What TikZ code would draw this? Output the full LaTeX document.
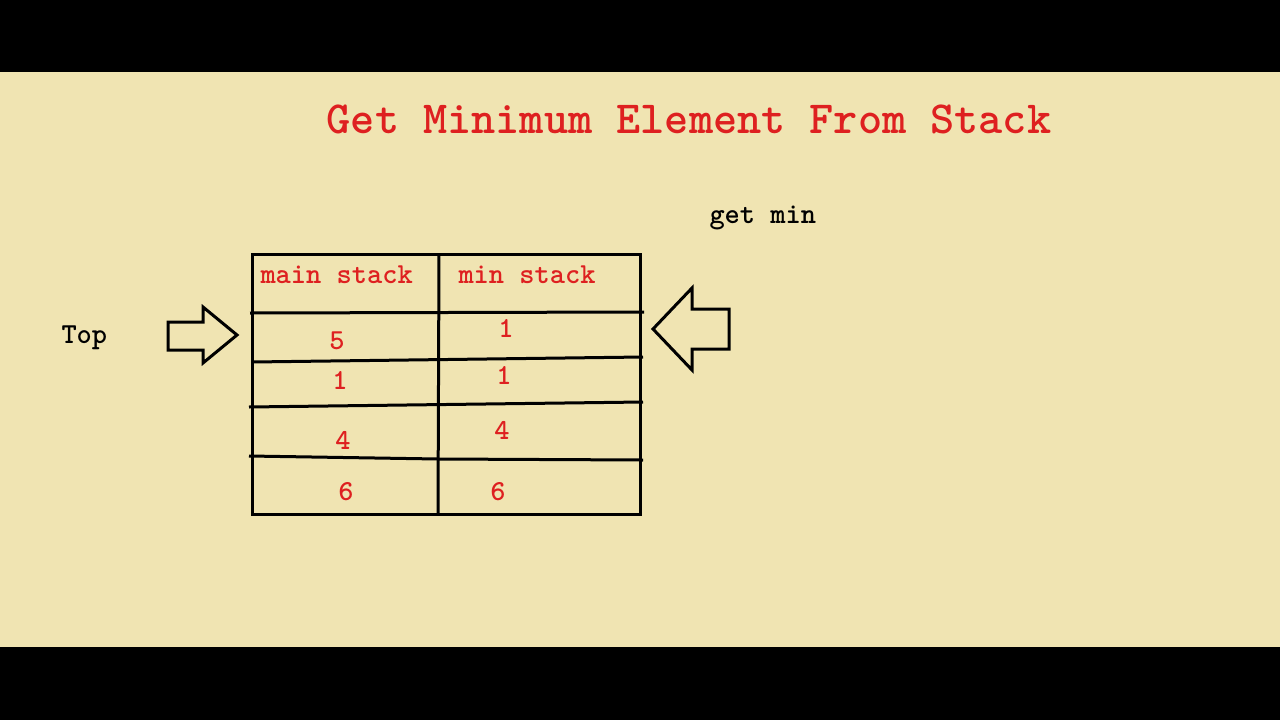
\documentclass[tikz,border=0pt]{standalone}
\usepackage{fontspec}
\newfontfamily\cour{lmmonolt10-bold}[Extension=.otf]
\definecolor{paper}{RGB}{240,228,178}
\definecolor{ink}{RGB}{222,32,32}

\begin{document}
\begin{tikzpicture}[x=1pt, y=-1pt,
        line width=3pt,
        txt/.style = {inner sep=0pt, anchor=base west,
            font=\cour\fontsize{29}{33}\selectfont},
        redtxt/.style = {txt, text=ink},
        num/.style = {redtxt, anchor=base},
        pointer/.style = {draw=black, line join=miter}]

        % Frame and paper
        \fill[black] (0,0) rectangle (1280,720);
        \fill[paper] (0,72) rectangle (1280,647);

        % Title
        \node[redtxt, anchor=base, font=\cour\fontsize{46}{50}\selectfont]
            (title) at (689,133) {Get Minimum Element From Stack};

        % Side labels
        \node[txt] (top) at (60,343) {Top};
        \node[txt] (getmin) at (708,223) {get min};

        % Table outline
        \draw (252,254) rectangle (640,514);
        \draw (439,254) -- (438,514);

        % Row lines
        \draw (250,313) -- (644,312);
        \draw (252,362) -- (643,357);
        \draw (249,407) -- (643,402);
        \draw (249,456) -- (438,459) -- (643,460);

        % Column heads
        \node[redtxt] (mainhead) at (259,283) {main stack};
        \node[redtxt] (minhead) at (457,283) {min stack};

        % Main stack values
        \node[num] (m1) at (337,349) {5};
        \node[num] (m2) at (340,389) {1};
        \node[num] (m3) at (343,449) {4};
        \node[num] (m4) at (346,500) {6};

        % Min stack values
        \node[num] (n1) at (506,337) {1};
        \node[num] (n2) at (504,384) {1};
        \node[num] (n3) at (502,439) {4};
        \node[num] (n4) at (498,500) {6};

        % Top arrow
        \draw[pointer] (168,322) -- (203,322) -- (203,307) -- (237,335)
            -- (203,363) -- (203,350) -- (168,350) -- cycle;

        % Get min arrow
        \draw[pointer] (729,309) -- (692,309) -- (692,288) -- (653,329)
            -- (692,370) -- (692,349) -- (729,349) -- cycle;

    \end{tikzpicture}
\end{document}
